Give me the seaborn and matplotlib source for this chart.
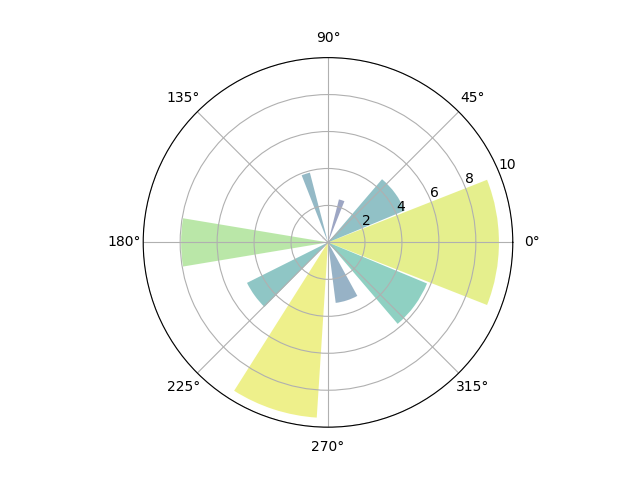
import numpy as np
import matplotlib
matplotlib.use("Agg")
import matplotlib.pyplot as plt
import seaborn as sns

# bar centres (degrees), lengths and angular widths (radians)
angles_deg = [0, 36, 72, 108, 144, 180, 216, 252, 288, 324]
radii = [9.25, 4.5, 2.4, 3.9, 0.4, 7.95, 4.9, 9.5, 3.3, 5.8]
widths = [0.75, 0.47, 0.13, 0.12, 0.02, 0.33, 0.33, 0.50, 0.375, 0.47]

cmap = sns.color_palette("viridis", as_cmap=True)
colors = cmap(np.array(radii) / 10.0)

fig = plt.figure(figsize=(6.4, 4.8), dpi=100)
ax = plt.subplot(projection="polar")
ax.bar(np.deg2rad(angles_deg), radii, width=widths, bottom=0.0,
       color=colors, alpha=0.5)
ax.set_ylim(0, 10)
ax.set_yticks([2, 4, 6, 8, 10])

fig.savefig("out.png")
